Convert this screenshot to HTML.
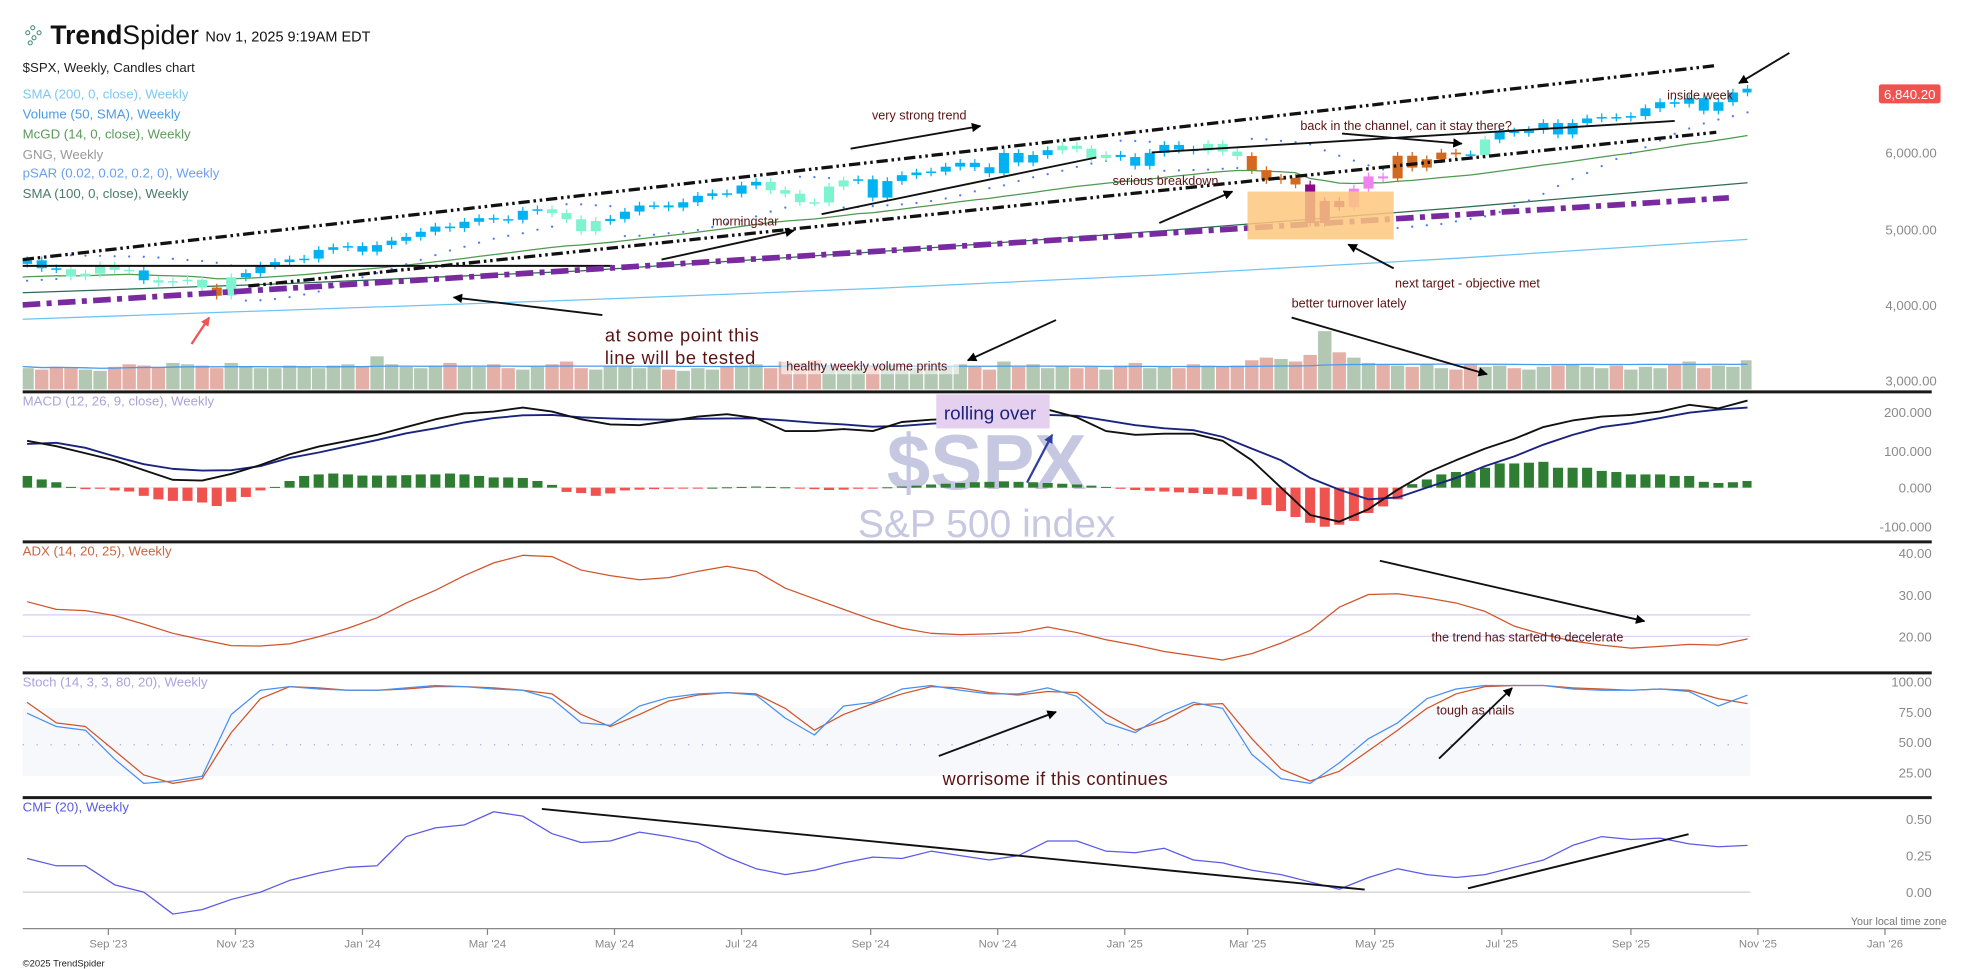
<!DOCTYPE html>
<html><head><meta charset="utf-8">
<style>
html,body{margin:0;padding:0;background:#fff;}
svg{display:block;}
text{font-family:"Liberation Sans",sans-serif;}
</style></head>
<body>
<svg id="chart" width="1962" height="969" viewBox="0 0 1557 769" preserveAspectRatio="none" xmlns="http://www.w3.org/2000/svg">
<defs>
<clipPath id="plotclip"><rect x="18" y="0" width="1372" height="769"/></clipPath>
<marker id="ah" viewBox="0 0 10 10" refX="9" refY="5" markerWidth="5" markerHeight="5" orient="auto"><path d="M0,0 L10,5 L0,10 z" fill="#000"/></marker>
<marker id="ahb" viewBox="0 0 10 10" refX="9" refY="5" markerWidth="4" markerHeight="4" orient="auto"><path d="M0,0 L10,5 L0,10 z" fill="#2f3fa0"/></marker>
<marker id="ahr" viewBox="0 0 10 10" refX="9" refY="5" markerWidth="4" markerHeight="4" orient="auto"><path d="M0,0 L10,5 L0,10 z" fill="#f05454"/></marker>
</defs>
<g>
<circle cx="22" cy="26" r="1.6" fill="none" stroke="#3a8a7a" stroke-width="0.8"/>
<circle cx="26" cy="22" r="1.6" fill="none" stroke="#3a8a7a" stroke-width="0.8"/>
<circle cx="27" cy="30" r="1.6" fill="none" stroke="#3a8a7a" stroke-width="0.8"/>
<circle cx="31" cy="26" r="1.6" fill="none" stroke="#3a8a7a" stroke-width="0.8"/>
<circle cx="24" cy="34" r="1.6" fill="none" stroke="#3a8a7a" stroke-width="0.8"/>
<text x="40" y="35" font-size="21" fill="#111"><tspan font-weight="bold">Trend</tspan>Spider</text>
</g>
<text x="163" y="33" font-size="11.5" fill="#111">Nov 1, 2025 9:19AM EDT</text>
<text x="18" y="57" font-size="10.5" fill="#222">$SPX, Weekly, Candles chart</text>
<text x="18" y="78" font-size="10.5" fill="#7cc8f2">SMA (200, 0, close), Weekly</text>
<text x="18" y="94" font-size="10.5" fill="#4a9be8">Volume (50, SMA), Weekly</text>
<text x="18" y="110" font-size="10.5" fill="#5a9a5a">McGD (14, 0, close), Weekly</text>
<text x="18" y="126" font-size="10.5" fill="#999">GNG, Weekly</text>
<text x="18" y="141" font-size="10.5" fill="#6a9ff0">pSAR (0.02, 0.02, 0.2, 0), Weekly</text>
<text x="18" y="157" font-size="10.5" fill="#4a7a6a">SMA (100, 0, close), Weekly</text>

<rect x="18" y="562" width="1371" height="54" fill="#f7f8fc"/>
<line x1="18" y1="591" x2="1389" y2="591" stroke="#a8a8e8" stroke-width="1" stroke-dasharray="1,10"/>
<line x1="18" y1="488" x2="1389" y2="488" stroke="#dcd4f4" stroke-width="1.2"/>
<line x1="18" y1="505" x2="1389" y2="505" stroke="#dcd4f4" stroke-width="1"/>
<line x1="18" y1="708" x2="1389" y2="708" stroke="#d6d6d6" stroke-width="1.2"/>
<line x1="18" y1="387" x2="1389" y2="387" stroke="#eeeef8" stroke-width="1"/>

<text x="783" y="388" font-size="62" font-weight="bold" fill="#c6c8e2" text-anchor="middle">$SPX</text>
<text x="783" y="426" font-size="31" fill="#c6c8e2" text-anchor="middle">S&amp;P 500 index</text>

<g id="marks" clip-path="url(#plotclip)"></g>

<g stroke="#1a1a1a" stroke-width="2.4">
<line x1="18" y1="311" x2="1533" y2="311"/>
<line x1="18" y1="430" x2="1533" y2="430"/>
<line x1="18" y1="534" x2="1533" y2="534"/>
<line x1="18" y1="633" x2="1533" y2="633"/>
</g>
<line x1="18" y1="737" x2="1540" y2="737" stroke="#888" stroke-width="1"/>

<text x="18" y="322" font-size="10.5" fill="#a9a3d8">MACD (12, 26, 9, close), Weekly</text>
<text x="18" y="441" font-size="10.5" fill="#c8663e">ADX (14, 20, 25), Weekly</text>
<text x="18" y="545" font-size="10.5" fill="#a9a3e0">Stoch (14, 3, 3, 80, 20), Weekly</text>
<text x="18" y="644" font-size="10.5" fill="#5a5ae0">CMF (20), Weekly</text>

<g font-size="10" fill="#5a1414">
<line x1="18" y1="211" x2="486" y2="211" stroke="#111" stroke-width="1.6"/>
<line x1="18" y1="206" x2="1362" y2="52" stroke="#111" stroke-width="2.6" stroke-dasharray="9,3,2,3,2,3"/>
<line x1="197" y1="227" x2="1362" y2="105" stroke="#111" stroke-width="2.6" stroke-dasharray="9,3,2,3,2,3"/>
<line x1="18" y1="242" x2="1372" y2="157" stroke="#7a2aa0" stroke-width="4.5" stroke-dasharray="14,5,4,5"/>
<line x1="652" y1="170" x2="870" y2="125" stroke="#111" stroke-width="1.5"/>
<line x1="914" y1="121" x2="1329" y2="96" stroke="#111" stroke-width="1.5"/>
<rect x="990" y="152" width="116" height="38" fill="#fdc77e" opacity="0.85"/>
<line x1="675" y1="118" x2="778" y2="100" stroke="#111" stroke-width="1.5" marker-end="url(#ah)"/>
<text x="692" y="95">very strong trend</text>
<line x1="525" y1="206" x2="630" y2="183" stroke="#111" stroke-width="1.5" marker-end="url(#ah)"/>
<text x="565" y="179">morningstar</text>
<line x1="478" y1="250" x2="360" y2="236" stroke="#111" stroke-width="1.5" marker-end="url(#ah)"/>
<text x="480" y="271" font-size="14.5" letter-spacing="0.5">at some point this</text>
<text x="480" y="289" font-size="14.5" letter-spacing="0.5">line will be tested</text>
<line x1="152" y1="273" x2="166" y2="252" stroke="#f05454" stroke-width="1.8" marker-end="url(#ahr)"/>
<rect x="620" y="283" width="141" height="14" fill="#ffffff" opacity="0.6"/>
<text x="624" y="294">healthy weekly volume prints</text>
<line x1="838" y1="254" x2="768" y2="286" stroke="#111" stroke-width="1.5" marker-end="url(#ah)"/>
<text x="883" y="147">serious breakdown</text>
<line x1="920" y1="177" x2="978" y2="152" stroke="#111" stroke-width="1.5" marker-end="url(#ah)"/>
<text x="1032" y="103">back in the channel, can it stay there?</text>
<line x1="1065" y1="106" x2="1160" y2="114" stroke="#111" stroke-width="1.5" marker-end="url(#ah)"/>
<text x="1107" y="228">next target - objective met</text>
<line x1="1106" y1="213" x2="1070" y2="194" stroke="#111" stroke-width="1.5" marker-end="url(#ah)"/>
<text x="1025" y="244">better turnover lately</text>
<line x1="1025" y1="252" x2="1180" y2="297" stroke="#111" stroke-width="1.5" marker-end="url(#ah)"/>
<text x="1323" y="79">inside week</text>
<line x1="1420" y1="42" x2="1380" y2="66" stroke="#111" stroke-width="1.5" marker-end="url(#ah)"/>
<rect x="743" y="313" width="90" height="27" fill="#e6d0ef"/>
<text x="749" y="333" font-size="15" fill="#1c237e">rolling over</text>
<line x1="815" y1="383" x2="835" y2="345" stroke="#2f3fa0" stroke-width="1.8" marker-end="url(#ahb)"/>
<line x1="1095" y1="445" x2="1305" y2="493" stroke="#111" stroke-width="1.5" marker-end="url(#ah)"/>
<text x="1136" y="509">the trend has started to decelerate</text>
<text x="748" y="623" font-size="14.5" letter-spacing="0.3">worrisome if this continues</text>
<line x1="745" y1="600" x2="838" y2="565" stroke="#111" stroke-width="1.5" marker-end="url(#ah)"/>
<text x="1140" y="567">tough as nails</text>
<line x1="1142" y1="602" x2="1200" y2="546" stroke="#111" stroke-width="1.5" marker-end="url(#ah)"/>
<line x1="430" y1="642" x2="1083" y2="706" stroke="#111" stroke-width="1.5"/>
<line x1="1165" y1="705" x2="1340" y2="662" stroke="#111" stroke-width="1.5"/>
</g>

<g font-size="10.5" fill="#8a8a8a" text-anchor="end">
<text x="1537" y="125">6,000.00</text>
<text x="1537" y="186">5,000.00</text>
<text x="1537" y="246">4,000.00</text>
<text x="1537" y="306">3,000.00</text>
</g>
<rect x="1491" y="67" width="49" height="15" rx="2" fill="#ef5350"/>
<text x="1515.5" y="78.5" font-size="10.5" fill="#fff" text-anchor="middle">6,840.20</text>
<g font-size="10.5" fill="#8a8a8a" text-anchor="end">
<text x="1533" y="331">200.000</text>
<text x="1533" y="362">100.000</text>
<text x="1533" y="391">0.000</text>
<text x="1533" y="422">-100.000</text>
</g>
<g font-size="10.5" fill="#8a8a8a" text-anchor="end">
<text x="1533" y="443">40.00</text>
<text x="1533" y="476">30.00</text>
<text x="1533" y="509">20.00</text>
</g>
<g font-size="10.5" fill="#8a8a8a" text-anchor="end">
<text x="1533" y="545">100.00</text>
<text x="1533" y="569">75.00</text>
<text x="1533" y="593">50.00</text>
<text x="1533" y="617">25.00</text>
</g>
<g font-size="10.5" fill="#8a8a8a" text-anchor="end">
<text x="1533" y="654">0.50</text>
<text x="1533" y="683">0.25</text>
<text x="1533" y="712">0.00</text>
</g>
<text x="1545" y="734" font-size="8.5" fill="#777" text-anchor="end">Your local time zone</text>
<text x="18" y="767" font-size="7.5" fill="#222">©2025 TrendSpider</text>
<g id="xaxis"></g>
</svg>
<script>
const closes=[4505,4536,4582,4478,4464,4370,4406,4516,4457,4450,4320,4288,4308,4327,4224,4117,4358,4415,4514,4559,4594,4604,4719,4754,4770,4697,4783,4840,4891,4959,5027,5006,5089,5137,5124,5117,5234,5254,5204,5123,4967,5100,5128,5223,5303,5305,5278,5347,5431,5465,5460,5567,5615,5505,5459,5346,5344,5554,5634,5648,5408,5626,5703,5738,5751,5815,5865,5808,5728,5995,5870,5969,6032,6090,6051,5930,5970,5942,5827,5997,6101,6040,6026,6114,6013,5955,5770,5638,5667,5581,5074,5363,5282,5525,5686,5660,5958,5802,5912,6000,5977,5967,6173,6279,6259,6297,6389,6238,6389,6450,6467,6460,6481,6584,6664,6643,6716,6552,6664,6791,6840];
const gng="bbbbbaaaaabaaaaoabbbbbbbbbbbbbbbbbbbbbaaaabbbbbbbbbbbaaaaaabbbbbbbbbbbbbbaaaabbbbbbaaaoooopppvvvooooobabbbbbbbbbbbbbbbbbb";
const volumes=[17,18,16,15,17,16,15,14,17,19,18,17,20,19,18,16,20,17,16,16,18,17,16,18,19,17,25,19,17,16,18,20,18,17,19,16,15,17,19,21,16,15,18,17,16,18,15,14,16,15,17,18,19,16,21,20,22,17,15,16,18,17,15,16,16,18,19,17,15,21,17,19,16,18,16,17,15,18,20,16,17,16,19,18,17,18,22,24,23,21,26,44,28,24,20,19,18,17,19,16,15,19,17,18,16,15,17,18,19,17,16,18,15,17,16,19,21,16,18,17,22];
const sma200Pts=[3796,3929,4061,4211,4393,4609,4857];
const sma100Pts=[4144,4277,4443,4692,4973,5272,5604];
const macdHist=[32,31,30,21,14,2,-4,-3,-7,-10,-21,-30,-34,-34,-38,-47,-36,-24,-7,2,17,30,34,36,34,31,31,31,32,34,34,36,34,30,26,26,25,17,7,-11,-14,-21,-15,-7,-5,-4,-3,-2,-1,0,1,2,3,2,1,-2,-4,-6,-5,-3,-1,1,3,5,8,10,12,14,15,16,15,14,12,10,8,5,2,-3,-6,-8,-10,-12,-14,-16,-18,-22,-30,-45,-60,-75,-90,-100,-95,-85,-65,-48,-30,9,21,34,40,40,51,62,62,64,66,51,51,51,43,40,34,34,34,30,30,15,12,14,17];
const macdLine=[120,106,88,70,45,20,18,35,58,85,105,120,135,155,175,190,195,205,195,175,162,160,170,182,188,178,145,145,150,145,168,174,176,178,192,200,180,145,135,138,138,120,70,0,-70,-87,-55,-5,38,70,100,125,155,172,182,186,195,212,203,223];
const macdSignal=[112,115,102,80,60,48,44,45,55,76,90,106,122,139,152,167,178,185,186,180,177,175,174,176,177,177,172,166,162,156,158,164,168,175,180,186,184,172,160,152,147,130,100,70,25,-5,-30,-25,0,25,55,80,110,135,155,165,178,192,200,205];
const adx=[28.8,27,26.7,25.5,23.5,21.3,19.8,18.4,18.3,18.8,20.5,22.5,25,28.5,31.5,35,38,39.8,39.5,36.3,35,34,34.5,36,37.2,36,32,29.5,27,24.5,22.5,21.3,21,21.2,21.5,22.8,21.5,19.8,18.5,17,16,15,16.5,19,22,27.5,30.5,30.7,29.7,28.5,26.5,23,21,19.5,18.5,17.8,18.2,18.7,18.5,20];
const stochK=[76,65,62,38,18,20,24,75,95,98,96,95,95,97,99,98,96,95,88,68,66,82,89,92,93,91,72,58,82,85,96,99,95,92,92,97,90,68,60,75,85,80,42,22,18,35,55,68,88,96,99,99,99,96,95,95,96,94,82,91];
const stochD=[85,68,65,45,25,18,22,60,88,98,97,95,95,96,98,98,97,95,92,75,65,75,86,91,93,92,80,62,75,84,92,98,97,93,91,94,93,75,62,70,83,84,55,30,20,28,45,62,80,92,98,99,99,97,96,95,96,95,88,84];
const cmf=[0.23,0.18,0.18,0.05,0.0,-0.15,-0.12,-0.05,0.0,0.08,0.13,0.17,0.18,0.38,0.44,0.46,0.55,0.52,0.4,0.34,0.35,0.41,0.38,0.34,0.24,0.16,0.12,0.15,0.2,0.24,0.23,0.28,0.25,0.22,0.25,0.35,0.35,0.28,0.27,0.3,0.22,0.2,0.15,0.12,0.07,0.02,0.1,0.16,0.12,0.1,0.12,0.17,0.22,0.32,0.38,0.36,0.37,0.33,0.31,0.32];
const monthLabels=["Sep '23","Nov '23","Jan '24","Mar '24","May '24","Jul '24","Sep '24","Nov '24","Jan '25","Mar '25","May '25","Jul '25","Sep '25","Nov '25","Jan '26"];
const monthDates=["2023-09-01","2023-11-01","2024-01-01","2024-03-01","2024-05-01","2024-07-01","2024-09-01","2024-11-01","2025-01-01","2025-03-01","2025-05-01","2025-07-01","2025-09-01","2025-11-01","2026-01-01"];

const NS="http://www.w3.org/2000/svg";
const STEP=11.57;
function xi(i){return -1.6+i*STEP;}
function xDate(s){const d=(Date.parse(s)-Date.parse("2023-07-10"))/86400000;return -1.6+d/7*STEP;}
function yP(p){return 302-(p-3000)*0.0603;}
function yM(v){return 387-v*0.31;}
function yA(v){return 507-(v-20)*3.35;}
function yS(v){return 543+(100-v)*0.96;}
function yC(v){return 708-v*116;}
function bi(j){return 2*(j+1);}
function el(tag,parent){const e=document.createElementNS(NS,tag);parent.appendChild(e);return e;}
const g=document.getElementById('marks');
const colMap={b:"#00b2f2",a:"#7df3cf",o:"#d2691e",p:"#8b0a8b",v:"#ee82ee"};

function polyline(pts,stroke,width,name){
  const p=el('polyline',g);
  p.setAttribute('points',pts.map(q=>q[0].toFixed(1)+","+q[1].toFixed(1)).join(" "));
  p.setAttribute('fill','none');p.setAttribute('stroke',stroke);p.setAttribute('stroke-width',width);
  p.setAttribute('stroke-linejoin','round');
  
  
  return p;
}

for(let i=0;i<closes.length;i++){
  const up=i===0||closes[i]>=closes[i-1];
  const h=volumes[i]*1.05;
  const r=el('rect',g);
  r.setAttribute('x',(xi(i)-5.3).toFixed(1));r.setAttribute('y',(309-h).toFixed(1));
  r.setAttribute('width',10.6);r.setAttribute('height',h.toFixed(1));
  r.setAttribute('fill',up?"#b2c8b3":"#e4afa7");
  
  
}
{const pts=[];for(let i=0;i<volumes.length;i++){const s=volumes.slice(Math.max(0,i-49),i+1);const m=s.reduce((a,b)=>a+b,0)/s.length;pts.push([xi(i),309-m*1.05]);}
polyline(pts,"#4a9be8",1,'volume-sma-line');}

polyline(sma200Pts.map((v,k)=>[xi(k*20),yP(v)]),"#6cc6f5",1,'sma200-line');
polyline(sma100Pts.map((v,k)=>[xi(k*20),yP(v)]),"#2f6a55",1,'sma100-line');
{let md=4330;const pts=[];for(let i=0;i<closes.length;i++){const c=closes[i];md=md+(c-md)/(14*Math.pow(c/md,4));pts.push([xi(i),yP(md)]);}
polyline(pts,"#4f9a4f",1,'mcgd-line');}
{let up=true,af=0.02,ep=closes[0],sar=closes[0]*0.97;
for(let i=1;i<closes.length;i++){
  sar=sar+af*(ep-sar);
  const c=closes[i];
  if(up){ if(c<sar){up=false;sar=ep;ep=c;af=0.02;} else if(c>ep){ep=c;af=Math.min(0.2,af+0.02);} }
  else { if(c>sar){up=true;sar=ep;ep=c;af=0.02;} else if(c<ep){ep=c;af=Math.min(0.2,af+0.02);} }
  const d=el('circle',g);
  d.setAttribute('cx',xi(i).toFixed(1));d.setAttribute('cy',(up?yP(sar)+4:yP(sar)-4).toFixed(1));d.setAttribute('r',0.9);d.setAttribute('fill','#4f7cf0');
  
  
}}
for(let i=1;i<closes.length;i++){
  const o=closes[i-1],c=closes[i];
  const col=colMap[gng[i]]||"#00b2f2";
  const yt=yP(Math.max(o,c)),yb=yP(Math.min(o,c));
  const w=el('line',g);
  w.setAttribute('x1',xi(i));w.setAttribute('x2',xi(i));w.setAttribute('y1',yt-3);w.setAttribute('y2',yb+3);
  w.setAttribute('stroke',col);w.setAttribute('stroke-width',1);
  
  
  const b=el('rect',g);
  b.setAttribute('x',(xi(i)-4).toFixed(1));b.setAttribute('y',yt.toFixed(1));
  b.setAttribute('width',8);b.setAttribute('height',Math.max(1.2,yb-yt).toFixed(1));b.setAttribute('fill',col);
  
  
}
for(let i=0;i<macdHist.length;i++){
  const v=macdHist[i];const y0=yM(0),y1=yM(v);
  const r=el('rect',g);
  r.setAttribute('x',(xi(i)-4).toFixed(1));r.setAttribute('y',Math.min(y0,y1).toFixed(1));
  r.setAttribute('width',8);r.setAttribute('height',Math.max(0.8,Math.abs(y1-y0)).toFixed(1));
  r.setAttribute('fill',v>=0?"#2e7d32":"#ef5350");
  
  
}
polyline(macdSignal.map((v,j)=>[xi(bi(j)),yM(v)]),"#1a237e",1.5,'macd-signal-line');
polyline(macdLine.map((v,j)=>[xi(bi(j)),yM(v)]),"#111",1.5,'macd-line');
polyline(adx.map((v,j)=>[xi(bi(j)),yA(v)]),"#d0552b",1,'adx-line');
polyline(stochD.map((v,j)=>[xi(bi(j)),yS(v)]),"#d0552b",1,'stoch-d-line');
polyline(stochK.map((v,j)=>[xi(bi(j)),yS(v)]),"#4a90f0",1,'stoch-k-line');
polyline(cmf.map((v,j)=>[xi(bi(j)),yC(v)]),"#5a5ae8",1,'cmf-line');

const xa=document.getElementById('xaxis');
for(let k=0;k<monthLabels.length;k++){
  const x=xDate(monthDates[k]);
  const t=el('line',xa);
  t.setAttribute('x1',x);t.setAttribute('x2',x);t.setAttribute('y1',737);t.setAttribute('y2',742);t.setAttribute('stroke','#888');
  
  
  const tx=el('text',xa);
  tx.setAttribute('x',x);tx.setAttribute('y',752);tx.setAttribute('font-size','9');tx.setAttribute('fill','#888');tx.setAttribute('text-anchor','middle');
  tx.textContent=monthLabels[k];
  
  
}
</script>
</body></html>
